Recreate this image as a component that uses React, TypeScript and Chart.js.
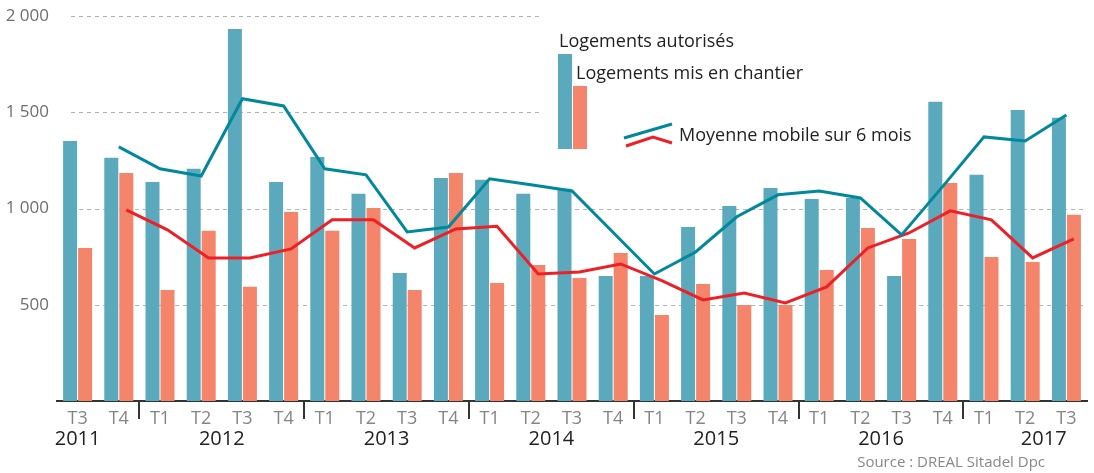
import React, { useEffect, useRef } from 'react';
import { Chart, registerables } from 'chart.js';

Chart.register(...registerables);

const quarters = ['T3', 'T4', 'T1', 'T2', 'T3', 'T4', 'T1', 'T2', 'T3', 'T4', 'T1', 'T2', 'T3', 'T4', 'T1', 'T2', 'T3', 'T4', 'T1', 'T2', 'T3', 'T4', 'T1', 'T2', 'T3'];
const years = ['2011', '2012', '2013', '2014', '2015', '2016', '2017'];
const autorises = [1351, 1263, 1138, 1206, 1933, 1138, 1268, 1076, 665, 1159, 1149, 1076, 1102, 650, 650, 904, 1013, 1107, 1050, 1055, 650, 1554, 1175, 1512, 1471];
const chantier = [795, 1185, 577, 884, 593, 982, 884, 1003, 577, 1185, 613, 707, 639, 769, 447, 608, 499, 499, 681, 899, 842, 1133, 748, 722, 967];
const moyAutorises = [null, 1320, 1206, 1169, 1570, 1533, 1206, 1175, 878, 904, 1154, 1123, 1091, 875, 660, 774, 957, 1071, 1091, 1055, 863, 1115, 1372, 1351, 1486];
const moyChantier = [null, 993, 889, 743, 743, 790, 941, 941, 795, 894, 908, 660, 670, 712, 625, 525, 561, 509, 593, 795, 873, 988, 941, 743, 842];
const yTicks = [500, 1000, 1500, 2000];

// layout (category-index positions of year labels and separators)
const yearPos = [0, 3.5, 7.5, 11.5, 15.5, 19.5, 23.45];
const yearSeps = [1.5, 5.5, 9.5, 13.5, 17.5, 21.5];

const FONT = "'Open Sans', 'Noto Sans', sans-serif";
const BLUE = '#5ba9bd';
const ORANGE = '#f4846a';
const TEAL = '#00889c';
const RED = '#ee2027';

function fmt(v: number): string {
  if (v >= 1000) return `${Math.floor(v / 1000)} ${String(v % 1000).padStart(3, '0')}`;
  return String(v);
}

function catPixel(chart: any, pos: number): number {
  const x = chart.scales.x;
  const p0 = x.getPixelForValue(0);
  const p1 = x.getPixelForValue(1);
  return p0 + pos * (p1 - p0);
}

const customPlugin = {
  id: 'custom',
  beforeDatasetsDraw(chart: any) {
    const ctx = chart.ctx;
    const { left, right } = chart.chartArea;
    const y = chart.scales.y;
    ctx.save();
    ctx.strokeStyle = '#b5b5b5';
    ctx.lineWidth = 1;
    ctx.setLineDash([4, 4]);
    yTicks.forEach((v) => {
      const py = Math.round(y.getPixelForValue(v)) + 0.5;
      ctx.beginPath();
      ctx.moveTo(left + 14, py);
      ctx.lineTo(right - 2, py);
      ctx.stroke();
    });
    ctx.setLineDash([]);
    ctx.fillStyle = '#ffffff';
    ctx.fillRect(540, 0, chart.width - 540, 190);
    ctx.restore();
  },
  beforeDatasetDraw(chart: any, args: any) {
    if (args.index === 3) {
      const p0 = chart.scales.x.getPixelForValue(0);
      const p1 = chart.scales.x.getPixelForValue(1);
      chart.ctx.save();
      chart.ctx.translate((p1 - p0) * 0.18, 0);
    }
  },
  afterDatasetDraw(chart: any, args: any) {
    if (args.index === 3) chart.ctx.restore();
  },
  afterDraw(chart: any) {
    const ctx = chart.ctx;
    const { bottom } = chart.chartArea;
    ctx.save();
    // year separators
    ctx.strokeStyle = '#333333';
    ctx.lineWidth = 2;
    yearSeps.forEach((s) => {
      const px = Math.round(catPixel(chart, s));
      ctx.beginPath();
      ctx.moveTo(px, bottom);
      ctx.lineTo(px, bottom + 18);
      ctx.stroke();
    });
    // year labels
    ctx.fillStyle = '#222222';
    ctx.font = `20px ${FONT}`;
    ctx.textAlign = 'center';
    ctx.textBaseline = 'middle';
    years.forEach((yr, i) => {
      ctx.fillText(yr, catPixel(chart, yearPos[i]), bottom + 38);
    });
    // legend
    ctx.fillStyle = BLUE;
    ctx.fillRect(558, 54, 14, 95);
    ctx.fillStyle = ORANGE;
    ctx.fillRect(573, 86, 14, 63);
    ctx.fillStyle = '#222222';
    ctx.font = `18px ${FONT}`;
    ctx.textAlign = 'left';
    ctx.fillText('Logements autorisés', 559, 42);
    ctx.fillText('Logements mis en chantier', 576, 74);
    ctx.fillText('Moyenne mobile sur 6 mois', 679, 136);
    ctx.lineWidth = 3;
    ctx.strokeStyle = TEAL;
    ctx.beginPath();
    ctx.moveTo(624, 138);
    ctx.lineTo(672, 124);
    ctx.stroke();
    ctx.strokeStyle = RED;
    ctx.beginPath();
    ctx.moveTo(626, 146);
    ctx.lineTo(653, 137);
    ctx.lineTo(672, 143);
    ctx.stroke();
    // source
    ctx.fillStyle = '#888888';
    ctx.font = `15px ${FONT}`;
    ctx.textAlign = 'right';
    ctx.fillText('Source : DREAL Sitadel Dpc', 1045, 463);
    ctx.restore();
  },
};

export default function App() {
  const ref = useRef<HTMLCanvasElement | null>(null);
  useEffect(() => {
    if (!ref.current) return;
    const chart = new Chart(ref.current, {
      type: 'bar',
      data: {
        labels: quarters,
        datasets: [
          {
            type: 'bar',
            label: 'Logements autorisés',
            data: autorises,
            backgroundColor: BLUE,
            borderWidth: 0,
            categoryPercentage: 0.728,
            barPercentage: 0.933,
            order: 1,
          },
          {
            type: 'bar',
            label: 'Logements mis en chantier',
            data: chantier,
            backgroundColor: ORANGE,
            borderWidth: 0,
            categoryPercentage: 0.728,
            barPercentage: 0.933,
            order: 1,
          },
          {
            type: 'line',
            label: 'Moyenne mobile autorisés',
            data: moyAutorises,
            borderColor: TEAL,
            borderWidth: 3,
            pointRadius: 0,
            tension: 0,
            fill: false,
            spanGaps: false,
            order: 0,
          },
          {
            type: 'line',
            label: 'Moyenne mobile chantier',
            data: moyChantier,
            borderColor: RED,
            borderWidth: 3,
            pointRadius: 0,
            tension: 0,
            fill: false,
            spanGaps: false,
            order: 0,
          },
        ],
      } as any,
      options: {
        animation: false,
        responsive: false,
        devicePixelRatio: 1,
        layout: { padding: { top: 16, right: 7, left: 0, bottom: 0 } },
        plugins: { legend: { display: false }, tooltip: { enabled: false } },
        scales: {
          x: {
            type: 'category',
            offset: true,
            grid: { display: false },
            border: { display: true, color: '#333333', width: 2 },
            ticks: {
              color: '#858585',
              font: { family: FONT, size: 18 },
              padding: -1,
              maxRotation: 0,
              autoSkip: false,
            },
            afterFit: (s: any) => {
              s.height = 72;
            },
          },
          y: {
            min: 0,
            max: 2000,
            grid: { display: false },
            border: { display: false },
            ticks: {
              stepSize: 500,
              color: '#6e6e6e',
              font: { family: FONT, size: 17 },
              padding: 0,
              callback: (v: any) => (v === 0 ? null : fmt(Number(v))),
            },
            afterFit: (s: any) => {
              s.width = 57;
            },
          },
        },
      } as any,
      plugins: [customPlugin],
    });
    return () => chart.destroy();
  }, []);
  return (
    <div style={{ position: 'fixed', left: 0, top: 0, width: 1094, height: 473, background: '#fff' }}>
      <canvas ref={ref} width={1094} height={473} style={{ display: 'block' }} />
    </div>
  );
}
